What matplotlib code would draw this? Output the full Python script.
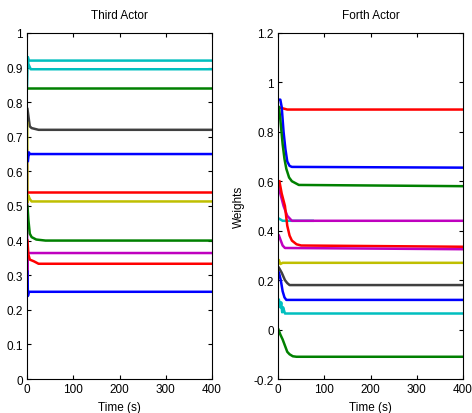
import matplotlib
matplotlib.use('Agg')
import matplotlib.pyplot as plt

plt.rcParams['font.family'] = ['Liberation Sans', 'DejaVu Sans']

# MATLAB default-ish colours
BLUE = (0, 0, 1)
GREEN = (0, 0.5, 0)
RED = (1, 0, 0)
CYAN = (0, 0.75, 0.75)
MAGENTA = (0.75, 0, 0.75)
YELLOW = (0.75, 0.75, 0)
GRAY = (0.25, 0.25, 0.25)

# Third actor: (colour, times, weights)
third_series = [
    (MAGENTA, [0, 0.5, 1, 2, 400], [0.66, 0.24, 0.36, 0.364, 0.364]),
    (CYAN, [0, 2, 4, 400], [0.93, 0.93, 0.92, 0.92]),
    (CYAN, [0, 1.5, 3, 8, 400], [0.84, 0.93, 0.91, 0.895, 0.895]),
    (GREEN, [0, 400], [0.84, 0.84]),
    (GRAY, [1, 3, 6, 10, 25, 400], [0.78, 0.76, 0.73, 0.725, 0.72, 0.72]),
    (YELLOW, [0.5, 1, 3, 6, 10, 400], [0.74, 0.51, 0.53, 0.52, 0.513, 0.513]),
    (BLUE, [2, 4, 6, 400], [0.63, 0.655, 0.65, 0.65]),
    (RED, [1, 400], [0.54, 0.54]),
    (GREEN, [1, 3, 6, 10, 20, 40, 400], [0.50, 0.46, 0.42, 0.41, 0.403, 0.40, 0.40]),
    (RED, [1, 3, 6, 15, 25, 400], [0.40, 0.36, 0.345, 0.34, 0.333, 0.333]),
    (BLUE, [1, 2, 4, 400], [0.31, 0.24, 0.252, 0.252]),
]

# Forth actor
forth_series = [
    (CYAN, [1, 10, 75], [0.45, 0.44, 0.44]),
    (RED, [0, 10, 20, 400], [0.90, 0.895, 0.89, 0.89]),
    (BLUE, [0, 5, 8, 12, 16, 20, 25, 30, 400],
     [0.93, 0.93, 0.90, 0.80, 0.73, 0.68, 0.662, 0.658, 0.655]),
    (GREEN, [2, 5, 10, 14, 18, 24, 30, 45, 400],
     [0.90, 0.85, 0.75, 0.69, 0.65, 0.615, 0.60, 0.585, 0.58]),
    (MAGENTA, [2, 5, 12, 20, 30, 400], [0.59, 0.55, 0.50, 0.46, 0.44, 0.44]),
    (RED, [3, 8, 15, 20, 25, 30, 40, 50, 400],
     [0.60, 0.55, 0.50, 0.42, 0.38, 0.36, 0.345, 0.34, 0.335]),
    (MAGENTA, [2, 6, 10, 15, 400], [0.38, 0.36, 0.34, 0.33, 0.325]),
    (YELLOW, [2, 5, 10, 400], [0.28, 0.265, 0.27, 0.27]),
    (GRAY, [2, 8, 15, 20, 25, 400], [0.25, 0.23, 0.20, 0.188, 0.18, 0.18]),
    (BLUE, [2, 6, 10, 14, 18, 400], [0.23, 0.20, 0.155, 0.13, 0.12, 0.12]),
    (CYAN, [2, 5, 7, 9, 11, 15, 400], [0.12, 0.09, 0.11, 0.07, 0.09, 0.065, 0.065]),
    (GREEN, [1, 5, 10, 15, 20, 25, 32, 40, 400],
     [0.0, -0.02, -0.04, -0.065, -0.09, -0.10, -0.108, -0.11, -0.11]),
]

x_ticks = [0, 100, 200, 300, 400]
third_yticks = [0, 0.1, 0.2, 0.3, 0.4, 0.5, 0.6, 0.7, 0.8, 0.9, 1]
third_ylabels = ['0', '0.1', '0.2', '0.3', '0.4', '0.5', '0.6', '0.7', '0.8', '0.9', '1']
forth_yticks = [-0.2, 0, 0.2, 0.4, 0.6, 0.8, 1, 1.2]
forth_ylabels = ['-0.2', '0', '0.2', '0.4', '0.6', '0.8', '1', '1.2']


def style_axes(ax, title, yticks, ylabels, ylim):
    ax.set_xlim(0, 400)
    ax.set_ylim(*ylim)
    ax.set_xticks(x_ticks)
    ax.set_xticklabels([str(t) for t in x_ticks])
    ax.set_yticks(yticks)
    ax.set_yticklabels(ylabels)
    ax.tick_params(direction='in', top=True, right=True, length=3, width=0.8,
                   labelsize=8.5, pad=3)
    for s in ax.spines.values():
        s.set_linewidth(0.8)
    ax.set_title(title, fontsize=8.5, pad=11)
    ax.set_xlabel('Time (s)', fontsize=8.5, labelpad=4)


fig = plt.figure(figsize=(4.72, 4.14), dpi=100)
ax1 = fig.add_axes([0.0572, 0.0821, 0.392, 0.836])
ax2 = fig.add_axes([0.589, 0.0821, 0.392, 0.836])

for color, t, w in third_series:
    ax1.plot(t, w, color=color, lw=1.8)
for color, t, w in forth_series:
    ax2.plot(t, w, color=color, lw=1.8)

style_axes(ax1, 'Third Actor', third_yticks, third_ylabels, (0, 1))
style_axes(ax2, 'Forth Actor', forth_yticks, forth_ylabels, (-0.2, 1.2))
ax2.set_ylabel('Weights', fontsize=8.5, labelpad=6)

fig.savefig('out.png', dpi=100)
